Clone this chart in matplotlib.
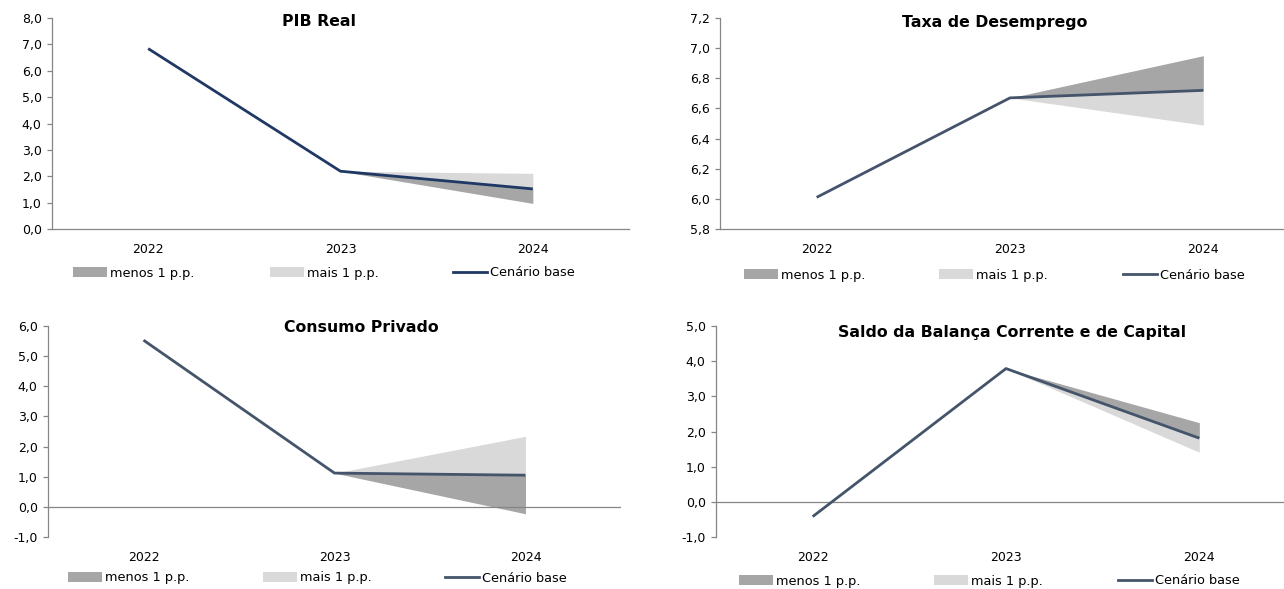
import matplotlib
matplotlib.use("Agg")
import matplotlib.pyplot as plt
from matplotlib.patches import Patch
from matplotlib.lines import Line2D

plt.rcParams['font.family'] = ['DejaVu Sans']

years = ["2022", "2023", "2024"]

pib_base = [6.84, 2.19, 1.52]
pib_menos = 0.97
pib_mais = 2.11

desemp_base = [6.01, 6.67, 6.72]
desemp_menos = 6.95
desemp_mais = 6.49

consumo_base = [5.53, 1.12, 1.05]
consumo_menos = -0.23
consumo_mais = 2.34

saldo_base = [-0.42, 3.79, 1.81]
saldo_menos = 2.25
saldo_mais = 1.41

titles = ["PIB Real", "Taxa de Desemprego", "Consumo Privado",
          "Saldo da Balança Corrente e de Capital"]
legend_labels = ["menos 1 p.p.", "mais 1 p.p.", "Cenário base"]

DARK = "#A6A6A6"
LIGHT = "#D9D9D9"
NAVY = "#1F3864"
SLATE = "#44546A"
AXIS = "#868686"

W, H = 1284, 589
fig = plt.figure(figsize=(W / 100, H / 100), dpi=100)


def box(l, r, t, b):
    return [l / W, 1 - b / H, (r - l) / W, (b - t) / H]


panels = [
    dict(pos=box(52, 629, 18, 229), base=pib_base, menos=pib_menos, mais=pib_mais,
         ylim=(0, 8), step=1.0, fmt="{:.1f}", color=NAVY, title_y=22, title_x=319,
         leg_y=273, cols=(73, 270, 453)),
    dict(pos=box(720, 1300, 18, 229), base=desemp_base, menos=desemp_menos, mais=desemp_mais,
         ylim=(5.8, 7.2), step=0.2, fmt="{:.1f}", color=SLATE, title_y=22, title_x=995,
         leg_y=275, cols=(744, 939, 1123)),
    dict(pos=box(48, 621, 326, 537), base=consumo_base, menos=consumo_menos, mais=consumo_mais,
         ylim=(-1, 6), step=1.0, fmt="{:.1f}", color=SLATE, title_y=328, title_x=361,
         leg_y=578, cols=(68, 263, 445)),
    dict(pos=box(716, 1296, 326, 537), base=saldo_base, menos=saldo_menos, mais=saldo_mais,
         ylim=(-1, 5), step=1.0, fmt="{:.1f}", color=SLATE, title_y=332, title_x=1012,
         leg_y=581, cols=(739, 934, 1118)),
]

for i, p in enumerate(panels):
    ax = fig.add_axes(p["pos"])
    x = list(range(len(years)))
    base = p["base"]
    # bands between 2023 and 2024
    ax.fill_between(x[1:], [base[1], base[2]], [base[1], p["menos"]],
                    color=DARK, linewidth=0, zorder=1)
    ax.fill_between(x[1:], [base[1], base[2]], [base[1], p["mais"]],
                    color=LIGHT, linewidth=0, zorder=1)
    ax.plot(x, base, color=p["color"], lw=2.0, zorder=3, solid_capstyle='butt')

    lo, hi = p["ylim"]
    ax.set_ylim(lo, hi)
    ax.set_xlim(-0.5, 2.5)
    n = int(round((hi - lo) / p["step"]))
    ticks = [lo + k * p["step"] for k in range(n + 1)]
    ax.set_yticks(ticks)
    ax.set_yticklabels([p["fmt"].format(t).replace(".", ",") for t in ticks])
    ax.set_xticks(x)
    ax.set_xticklabels(years)

    for s in ["top", "right"]:
        ax.spines[s].set_visible(False)
    ax.spines["left"].set_color(AXIS)
    ax.spines["left"].set_linewidth(0.9)
    if lo < 0:
        ax.spines["bottom"].set_visible(False)
        ax.axhline(0, color=AXIS, lw=0.9, zorder=2)
    else:
        ax.spines["bottom"].set_color(AXIS)
        ax.spines["bottom"].set_linewidth(0.9)
    ax.tick_params(axis="y", length=3.4, width=0.9, color=AXIS, labelsize=9,
                   labelcolor="#000000", pad=4)
    ax.tick_params(axis="x", length=0, labelsize=9, labelcolor="#000000", pad=10)
    ax.set_facecolor("none")

    fig.text(p["title_x"] / W, 1 - p["title_y"] / H, titles[i], ha="center", va="center",
             fontsize=11.3, fontweight="bold")

    handles = [Patch(facecolor=DARK, edgecolor="none"),
               Patch(facecolor=LIGHT, edgecolor="none"),
               Line2D([0], [0], color=p["color"], lw=2.0)]
    for h, lab, cx in zip(handles, legend_labels, p["cols"]):
        fig.legend([h], [lab], loc="center left",
                   bbox_to_anchor=(cx / W, 1 - p["leg_y"] / H),
                   frameon=False, fontsize=9.3, handlelength=2.6, handleheight=0.75,
                   handletextpad=0.25, borderpad=0, borderaxespad=0)

fig.savefig("out.png", dpi=100)
